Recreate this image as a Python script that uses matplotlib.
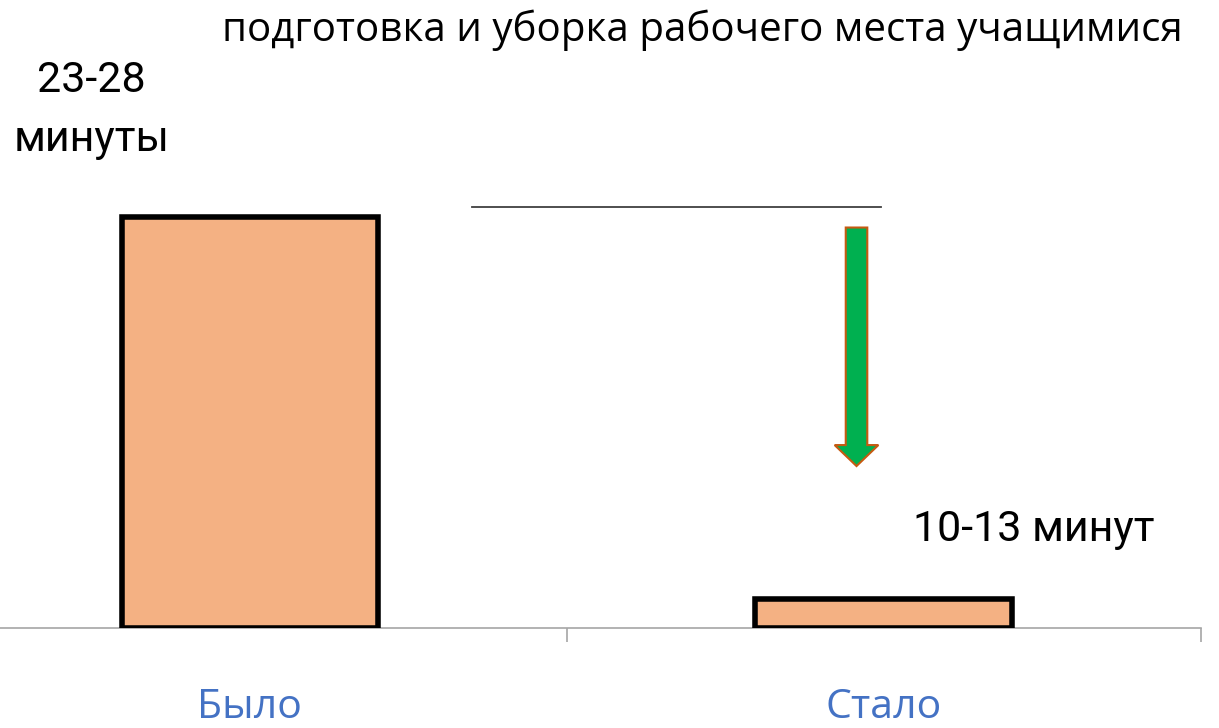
import matplotlib
matplotlib.use('Agg')
import matplotlib.pyplot as plt
from matplotlib.patches import FancyArrow

# data
categories = ['Было', 'Стало']
values = [28, 2]
value_labels = ['23-28\nминуты', '10-13 минут']
title = 'подготовка и уборка рабочего места учащимися'

BAR_COLOR = '#F4B183'
LABEL_BLUE = '#4472C4'
ARROW_GREEN = '#00B050'
ARROW_EDGE = '#C55A11'

fig = plt.figure(figsize=(12.19, 7.28), dpi=100)
# axis spills a bit past the left edge, as in the original
ax = fig.add_axes([-0.055, 0.137, 1.040, 0.863])

x = range(len(categories))
ax.bar(x, values, width=0.405, color=BAR_COLOR, edgecolor='black', linewidth=4, zorder=3)

ax.set_xlim(-0.5, 1.5)
ax.set_ylim(0, 42.8)
ax.set_yticks([])
for side in ('top', 'right', 'left'):
    ax.spines[side].set_visible(False)
ax.spines['bottom'].set_color('#A6A6A6')
ax.spines['bottom'].set_linewidth(1.2)
ax.set_xticks([0.5, 1.5], minor=True)
ax.tick_params(axis='x', which='minor', length=10, color='#A6A6A6', width=1.2)
ax.tick_params(axis='x', which='major', length=0, pad=43)
ax.set_xticks(list(x))
ax.set_xticklabels(categories, fontsize=29.5, color=LABEL_BLUE, family='Open Sans')

# value labels
ax.text(-0.25, 35.3, value_labels[0], ha='center', va='center', fontsize=31,
        family='Roboto', linespacing=1.55)
ax.text(1.236, 6.7, value_labels[1], ha='center', va='center', fontsize=31, family='Roboto')

# decorative line and the arrow
ax.plot([0.35, 0.995], [28.72, 28.72], color='#404040', linewidth=1.3)
ax.add_patch(FancyArrow(0.957, 27.3, 0, -16.25, width=0.034, head_width=0.069,
                        head_length=1.43, length_includes_head=True,
                        facecolor=ARROW_GREEN, edgecolor=ARROW_EDGE, linewidth=1.5, zorder=4))

fig.text(0.576, 0.958, title, ha='center', va='center', fontsize=29, family='Open Sans')

fig.savefig('out.png', dpi=100)
